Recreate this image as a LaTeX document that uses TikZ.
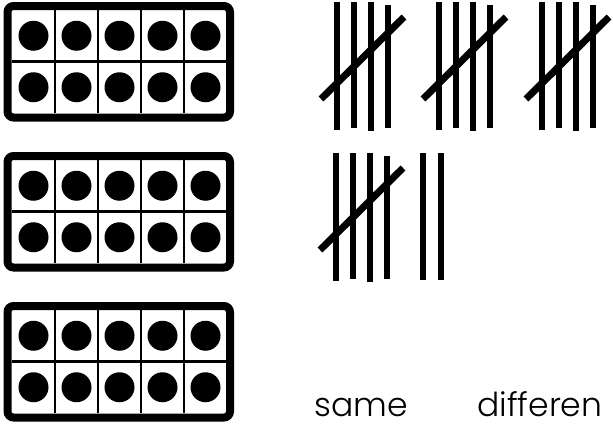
\documentclass[tikz,border=0pt]{standalone}
\usepackage{fontspec}
\setmainfont{Poppins Light}
\newcommand{\tenframe}[1]{%
\begin{scope}[yshift=-#1pt]
\draw[line width=8pt,rounded corners=6pt] (7.5,6)rectangle(230,117.5);
\foreach \x in {55,98,141,184}\draw[line width=2.5pt] (\x,10)--(\x,113);
\draw[line width=2.5pt] (12,61.5)--(227,61.5);
\foreach \x in {33.5,76.5,119.5,162.5,205.5}{\fill (\x,35.75) circle (15); \fill (\x,87.25) circle (15);}
\end{scope}}
\newcommand{\tallyfive}[2]{%
\foreach \dx/\t/\b in {0/0/128,16.5/0/126,34/0/129,50.5/3/126}\draw[line width=6pt] (#1+\dx,#2+\t)--(#1+\dx,#2+\b);
\draw[line width=7pt] (#1-16,#2+97)--(#1+67,#2+15);}

\begin{document}
\begin{tikzpicture}[x=1pt,y=-1pt]
\useasboundingbox (0,0) rectangle (613,423);
\tenframe{0}\tenframe{150}\tenframe{300}
\tallyfive{337}{2}\tallyfive{439}{2}\tallyfive{542}{2}
\tallyfive{336}{153}
\foreach \x in {423,441}\draw[line width=6pt] (\x,153)--(\x,280);
\node[anchor=base west,inner sep=0pt,font=\fontsize{33}{38}\selectfont] (same) at (314,416) {same};
\node[anchor=base west,inner sep=0pt,font=\fontsize{33}{38}\selectfont] (diff) at (477,416) {differen};
\end{tikzpicture}
\end{document}
